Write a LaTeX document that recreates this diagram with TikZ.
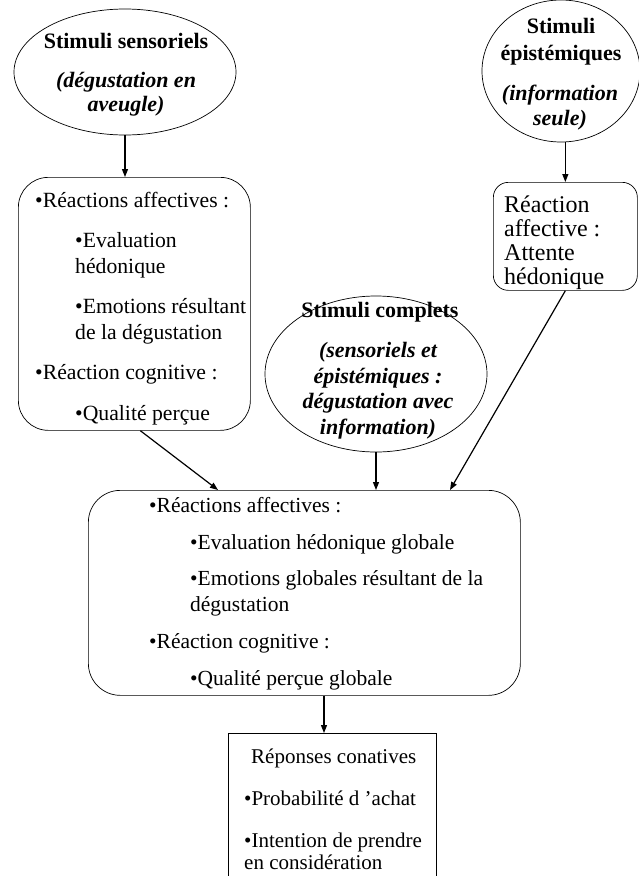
\documentclass[tikz,border=0pt]{standalone}
\usepackage{fontspec}
\setmainfont{Liberation Serif}
\usetikzlibrary{shapes.geometric,arrows.meta}
\tikzset{
  ell/.style={draw, ellipse, line width=0.7pt, inner sep=0pt},
  rbox/.style={draw, line width=0.7pt, inner sep=0pt},
  arr/.style={-{Triangle[length=8pt,width=6pt]}, line width=1.2pt},
  tl/.style={anchor=base west, inner sep=0pt},
  tc/.style={anchor=base, inner sep=0pt},
  fA/.style={font=\fontsize{21.7}{26}\selectfont},
  fM/.style={font=\fontsize{21.5}{26}\selectfont},
  fB/.style={font=\fontsize{21}{25}\selectfont},
  fR/.style={font=\fontsize{24}{24}\selectfont},
  fH/.style={font=\fontsize{22}{26}\selectfont\bfseries},
  fI/.style={font=\fontsize{22}{26}\selectfont\bfseries\itshape},
}
\begin{document}
\begin{tikzpicture}[x=1pt,y=-1pt]
\useasboundingbox (0,0) rectangle (639,876);
\fill[white] (0,0) rectangle (639,876);
\clip (0,0) rectangle (639,876);

% shapes
\node[ell, minimum width=222pt, minimum height=126pt] (e1) at (125,72) {};
\node[ell, minimum width=158pt, minimum height=142pt] (e2) at (561,71) {};
\node[ell, minimum width=222pt, minimum height=156pt] (e3) at (376,374) {};
\node[rbox, rounded corners=30pt, minimum width=232pt, minimum height=253pt, anchor=north west] (box1) at (18,177) {};
\node[rbox, rounded corners=15pt, minimum width=144pt, minimum height=108pt, anchor=north west] (box2) at (493,182) {};
\node[rbox, rounded corners=32pt, minimum width=432pt, minimum height=205pt, anchor=north west] (main) at (88,490) {};
\node[rbox, minimum width=208pt, minimum height=200pt, anchor=north west] (bot) at (228,733) {};

% ellipse 1 text
\node[tc, fH] (e1a) at (126,48) {Stimuli sensoriels};
\node[tc, fI] (e1b) at (126,87) {(dégustation en};
\node[tc, fI] (e1c) at (126,111) {aveugle)};

% ellipse 2 text
\node[tc, fH] (e2a) at (561,33) {Stimuli};
\node[tc, fH] (e2b) at (561,60) {épistémiques};
\node[tc, fI] (e2c) at (560,100) {(information};
\node[tc, fI] (e2d) at (560,125) {seule)};

% ellipse 3 text
\node[tc, fH] (e3a) at (380,317) {Stimuli complets};
\node[tc, fI] (e3b) at (378,357) {(sensoriels et};
\node[tc, fI] (e3c) at (378,383) {épistémiques :};
\node[tc, fI] (e3d) at (378,408) {dégustation avec};
\node[tc, fI] (e3e) at (378,434) {information)};

% box 1 text
\node[tl, fA] (b1a) at (35,207) {•Réactions affectives :};
\node[tl, fA] (b1b) at (75,247) {•Evaluation};
\node[tl, fA] (b1c) at (75,273) {hédonique};
\node[tl, fA] (b1d) at (75,313) {•Emotions résultant};
\node[tl, fA] (b1e) at (75,339) {de la dégustation};
\node[tl, fA] (b1f) at (35,379) {•Réaction cognitive :};
\node[tl, fA] (b1g) at (75,420) {•Qualité perçue};

% box 2 text
\node[tl, fR] (b2a) at (504,212) {Réaction};
\node[tl, fR] (b2b) at (504,236) {affective :};
\node[tl, fR] (b2c) at (504,260) {Attente};
\node[tl, fR] (b2d) at (504,284) {hédonique};

% main box text
\node[tl, fM] (m1) at (149,512) {•Réactions affectives :};
\node[tl, fM] (m2) at (190,549) {•Evaluation hédonique globale};
\node[tl, fM] (m3) at (190,585) {•Emotions globales résultant de la};
\node[tl, fM] (m4) at (190,611) {dégustation};
\node[tl, fM] (m5) at (149,648) {•Réaction cognitive :};
\node[tl, fM] (m6) at (190,685) {•Qualité perçue globale};

% bottom box text
\node[tl, fB] (r1) at (251,763) {Réponses conatives};
\node[tl, fB] (r2) at (244,805) {•Probabilité d ’achat};
\node[tl, fB] (r3) at (244,847) {•Intention de prendre};
\node[tl, fB] (r4) at (244,869) {en considération};

% connectors
\draw[arr] (e1.south) -- (e1.south |- box1.north);
\draw[arr] (box2.north |- e2.south) -- (box2.north);
\draw[arr] ([xshift=6pt]box1.south) -- (main.north -| 218,0);
\draw[arr] (e3.south) -- (e3.south |- main.north);
\draw[arr] (box2.south) -- (main.north -| 450,0);
\draw[arr] (324,0 |- main.south) -- (324,0 |- bot.north);
\end{tikzpicture}
\end{document}
